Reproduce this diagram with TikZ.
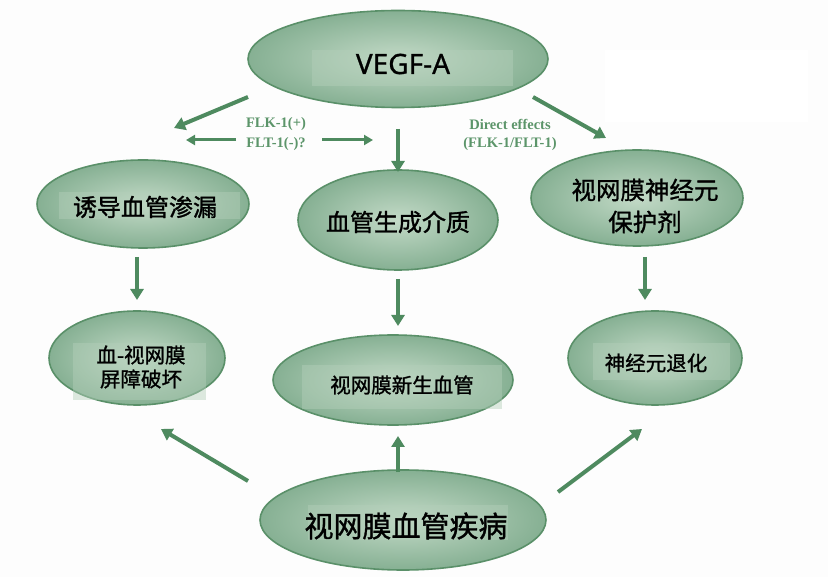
\documentclass[tikz,border=0pt]{standalone}
\usepackage{fontspec}
\setmainfont{Liberation Serif}
\newfontfamily\cjk[FakeBold=1.2]{Noto Sans CJK SC}
\newfontfamily\latinsans[FakeBold=0.8]{Noto Sans}
\usetikzlibrary{shapes.geometric,arrows.meta}
\definecolor{arrowgreen}{HTML}{4E8A5F}
\definecolor{edgegreen}{HTML}{5A9069}
\definecolor{innergreen}{HTML}{C3DAC7}
\definecolor{outergreen}{HTML}{86B093}
\definecolor{patchgreen}{HTML}{B4CFBA}
\definecolor{labelgreen}{HTML}{5C956A}
\definecolor{bgcol}{HTML}{FDFDFD}
\begin{document}
\begin{tikzpicture}[x=1pt,y=-1pt,
  ell/.style={ellipse, draw=edgegreen, line width=1.6pt, inner color=innergreen, outer color=outergreen, inner sep=0pt},
  patch/.style={fill=patchgreen, fill opacity=0.45},
  txt/.style={inner sep=0pt, align=center, text=black},
  big/.style={txt, font=\cjk\fontsize{24}{30}\selectfont},
  mid/.style={txt, font=\cjk\fontsize{20.5}{24}\selectfont},
  lab/.style={inner sep=0pt, text=labelgreen, font=\bfseries\fontsize{14.5}{16}\selectfont},
  arr/.style={draw=arrowgreen, line width=4pt, -{Triangle[length=11pt,width=13pt]}}
]
\fill[bgcol] (0,0) rectangle (828,577);
\useasboundingbox (0,0) rectangle (828,577);
\fill[white] (605,50) rectangle (808,122);

% ellipses
\node[ell, minimum width=300pt, minimum height=97pt] (vegf) at (398,59) {};
\node[ell, minimum width=212pt, minimum height=88pt] (leak) at (143,204) {};
\node[ell, minimum width=200pt, minimum height=100pt] (medi) at (398,220) {};
\node[ell, minimum width=212pt, minimum height=96pt] (prot) at (637,198) {};
\node[ell, minimum width=176pt, minimum height=94pt] (brb) at (137,358) {};
\node[ell, minimum width=240pt, minimum height=90pt] (neo) at (393,380) {};
\node[ell, minimum width=174pt, minimum height=94pt] (degen) at (655,358) {};
\node[ell, minimum width=286pt, minimum height=100pt] (dis) at (403,520) {};

% text patches
\fill[patch] (312,50) rectangle (513,86);
\fill[patch] (59,192) rectangle (240,219);
\fill[patch] (73,343) rectangle (206,400);
\fill[patch] (593,343) rectangle (730,380);
\fill[patch] (302,365) rectangle (502,409);
\fill[patch] (308,505) rectangle (508,540);

% texts
\node[txt, font=\latinsans\fontsize{28}{32}\selectfont] (tvegf) at (403,64) {VEGF-A};
\node[big] (tleak) at (145,207) {诱导血管渗漏};
\node[big] (tmedi) at (398,222) {血管生成介质};
\node[big, font=\cjk\fontsize{24.5}{32}\selectfont] (tprot) at (645,206) {视网膜神经元\\保护剂};
\node[mid] (tbrb) at (141,367) {血-视网膜\\屏障破坏};
\node[mid] (tneo) at (402,385) {视网膜新生血管};
\node[mid] (tdegen) at (656,363) {神经元退化};
\node[txt, font=\cjk\fontsize{29}{32}\selectfont] (tdis) at (406,526) {视网膜血管疾病};

% labels
\node[lab] (flk) at (276,124) {FLK-1(+)};
\node[lab] (flt) at (276,144) {FLT-1(-)?};
\node[lab] (de1) at (510,124) {Direct effects};
\node[lab] (de2) at (510,144) {(FLK-1/FLT-1)};

% arrow endpoints
\coordinate (a1s) at (248,97);  \coordinate (a1e) at (174,128);
\coordinate (a2s) at (533,97);  \coordinate (a2e) at (606,138);
\coordinate (a3s) at (398,129); \coordinate (a3e) at (398,172);
\coordinate (a4s) at (236,140); \coordinate (a4e) at (186,140);
\coordinate (a5s) at (322,140); \coordinate (a5e) at (373,140);
\coordinate (a6s) at (137,257); \coordinate (a6e) at (137,300);
\coordinate (a7s) at (398,279); \coordinate (a7e) at (398,326);
\coordinate (a8s) at (645,257); \coordinate (a8e) at (645,300);
\coordinate (a9s) at (248,481); \coordinate (a9e) at (161,429);
\coordinate (a10s) at (398,472); \coordinate (a10e) at (398,436);
\coordinate (a11s) at (558,492); \coordinate (a11e) at (642,429);

\draw[arr] (a1s) -- (a1e);
\draw[arr] (a2s) -- (a2e);
\draw[arr] (a3s) -- (a3e);
\draw[arr, line width=3pt, -{Triangle[length=9pt,width=10pt]}] (a4s) -- (a4e);
\draw[arr, line width=3pt, -{Triangle[length=9pt,width=10pt]}] (a5s) -- (a5e);
\draw[arr] (a6s) -- (a6e);
\draw[arr] (a7s) -- (a7e);
\draw[arr] (a8s) -- (a8e);
\draw[arr] (a9s) -- (a9e);
\draw[arr] (a10s) -- (a10e);
\draw[arr] (a11s) -- (a11e);
\end{tikzpicture}
\end{document}
